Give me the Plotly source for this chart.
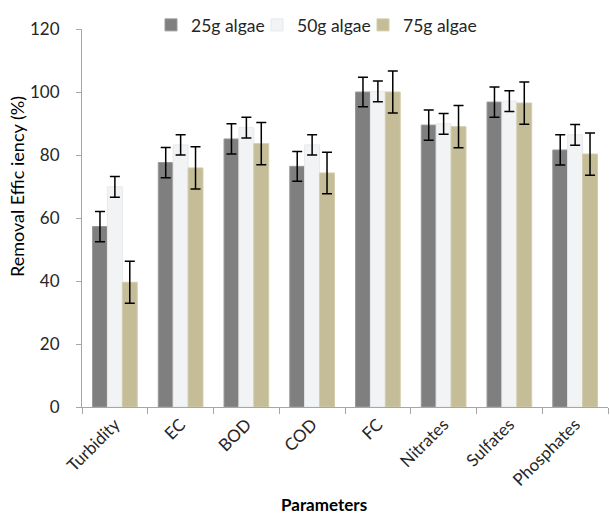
import plotly.graph_objects as go

categories = ["Turbidity", "EC", "BOD", "COD", "FC", "Nitrates", "Sulfates", "Phosphates"]
series_names = ["25g algae", "50g algae", "75g algae"]
algae_25 = [57.3, 77.6, 85.1, 76.4, 100.0, 89.5, 96.8, 81.6]
algae_50 = [69.9, 83.2, 88.7, 83.2, 100.2, 89.9, 97.1, 86.4]
algae_75 = [39.6, 75.9, 83.6, 74.3, 100.0, 89.0, 96.5, 80.3]
err_25 = [4.8, 4.8, 4.8, 4.7, 4.7, 4.8, 4.8, 4.8]
err_50 = [3.3, 3.2, 3.3, 3.2, 3.3, 3.3, 3.3, 3.3]
err_75 = [6.7, 6.7, 6.7, 6.6, 6.7, 6.7, 6.7, 6.7]
y_ticks = [0, 20, 40, 60, 80, 100, 120]

colors = ["#7F7F7F", "#F2F3F5", "#C4BD97"]
edges = ["#9A9A9A", "#E6E8EC", "#D2CCAC"]
FONT = "Lato, 'Open Sans', sans-serif"

L, R, T, B = 82, 2, 29, 109
PW, PH = 610 - L - R, 516 - T - B

legend_keys = ["legend", "legend2", "legend3"]
legend_text_x = [190, 296, 402]

fig = go.Figure()
for name, vals, errs, c, e, lk in zip(series_names, [algae_25, algae_50, algae_75],
                                      [err_25, err_50, err_75], colors, edges, legend_keys):
    fig.add_trace(go.Bar(
        x=categories, y=vals, name=name, legend=lk,
        marker=dict(color=c, line=dict(color=e, width=1)),
        error_y=dict(type="data", array=errs, visible=True,
                     color="#000000", thickness=1.5, width=5),
    ))

legend_common = dict(orientation="h", xanchor="left", yanchor="middle",
                     y=(407 - 25) / PH,
                     font=dict(size=17.5, family=FONT, color="#262626"),
                     itemwidth=30, bgcolor="rgba(0,0,0,0)")

fig.update_layout(
    width=610, height=516,
    margin=dict(l=L, r=R, t=T, b=B, autoexpand=False),
    paper_bgcolor="white", plot_bgcolor="white",
    barmode="group", bargap=0.32, bargroupgap=0,
    font=dict(family=FONT, color="#262626", size=16),
    showlegend=True,
    **{lk: dict(legend_common, x=(tx - 39 - L) / PW) for lk, tx in zip(legend_keys, legend_text_x)},
)
fig.update_yaxes(
    range=[0, 120], tickvals=y_ticks, showgrid=False, zeroline=False,
    showline=True, linecolor="#A6A6A6", linewidth=1, automargin=False,
    ticks="outside", ticklen=5, tickcolor="#A6A6A6", ticklabelstandoff=13,
    tickfont=dict(size=17, family=FONT, color="#262626"),
)
fig.update_xaxes(
    showgrid=False, showline=True, linecolor="#A6A6A6", linewidth=1, automargin=False,
    ticks="outside", ticklen=6, tickcolor="#A6A6A6", tickson="boundaries",
    tickangle=-45, tickfont=dict(size=17, family=FONT, color="#262626"),
)
fig.add_annotation(text="Removal Effic iency (%)", xref="paper", yref="paper",
                   x=(17 - L) / PW, y=(407 - 187) / PH, xanchor="center", yanchor="middle",
                   textangle=-90, showarrow=False,
                   font=dict(size=18, family=FONT, color="#000000"))
fig.add_annotation(text="<b>Parameters</b>", xref="paper", yref="paper",
                   x=(324 - L) / PW, y=-(504 - 407) / PH, xanchor="center", yanchor="middle",
                   showarrow=False, font=dict(size=17, family=FONT, color="#000000"))

fig.write_html("out.html", config={"displayModeBar": False},
               post_script="document.body.style.margin='0';")
